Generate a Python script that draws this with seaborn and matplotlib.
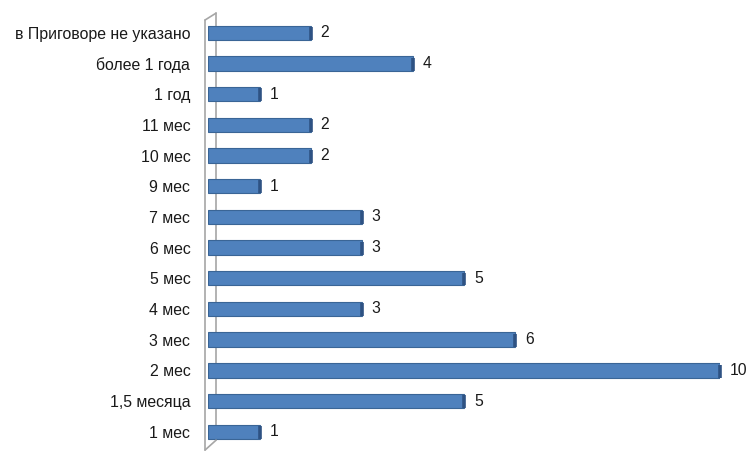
import pandas as pd
import seaborn as sns
import matplotlib.pyplot as plt

# dados
categorias = ['в Приговоре не указано', 'более 1 года', '1 год', '11 мес', '10 мес', '9 мес',
              '7 мес', '6 мес', '5 мес', '4 мес', '3 мес', '2 мес', '1,5 месяца', '1 мес']
valores = [2, 4, 1, 2, 2, 1, 3, 3, 5, 3, 6, 10, 5, 1]

df = pd.DataFrame({'Срок': categorias, 'Количество': valores})

sns.set_theme(style="white")
plt.rcParams['font.family'] = ['Liberation Sans', 'DejaVu Sans']

fig = plt.figure(figsize=(7.47, 4.59), dpi=100)
ax = fig.add_axes([0.279, 0.026, 0.685, 0.936])

sns.barplot(data=df, y='Срок', x='Количество', orient='h', color='#4F81BD',
            saturation=1, width=0.47, edgecolor='#3A6596', linewidth=0.8, ax=ax)

ax.set_xlim(0, 10)
ax.set_ylim(len(categorias) - 0.5, -0.5)
ax.set_xlabel('')
ax.set_ylabel('')
ax.set_xticks([])
for s in ['top', 'right', 'bottom', 'left']:
    ax.spines[s].set_visible(False)
ax.tick_params(axis='y', length=0, pad=13, labelsize=11.4, labelcolor='#1a1a1a')

# face lateral escura (efeito 3D) + valores
for barra, v in zip(ax.patches, valores):
    y0 = barra.get_y()
    h = barra.get_height()
    xf = barra.get_width()
    ax.plot([xf, xf], [y0 + h * 0.1, y0 + h], color='#2E5283', lw=2.6,
            solid_capstyle='butt', clip_on=False, zorder=5)
    ax.annotate(str(v), (xf, y0 + h / 2),
                xytext=(7, 0), textcoords='offset points', va='center', ha='left',
                fontsize=11.3, color='#1a1a1a', annotation_clip=False)

# parede 3D do eixo
cor = '#A6A6A6'
kw = dict(transform=ax.transAxes, color=cor, lw=1.2, clip_on=False)
ax.plot([-0.0066, -0.0066], [-0.007, 0.994], **kw)
ax.plot([0.0149, 0.0149], [0.016, 1.010], zorder=0, **kw)
ax.plot([-0.0066, 0.0149], [0.994, 1.010], **kw)
ax.plot([-0.0066, 0.0149], [-0.007, 0.016], **kw)

plt.savefig('out.png', dpi=100)
